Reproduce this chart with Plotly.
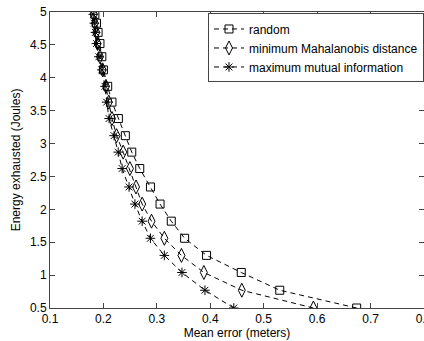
import plotly.graph_objects as go

energy = [0.5, 0.77, 1.04, 1.3, 1.56, 1.82, 2.08, 2.34, 2.62, 2.87, 3.12, 3.38, 3.63, 3.87, 4.12, 4.32, 4.52, 4.69, 4.83, 4.965]
err_random = [0.674, 0.530, 0.458, 0.393, 0.352, 0.327, 0.306, 0.288, 0.268, 0.253, 0.241, 0.228, 0.216, 0.208, 0.200, 0.197, 0.1935, 0.190, 0.187, 0.184]
err_mahal = [0.593, 0.459, 0.388, 0.346, 0.314, 0.290, 0.2725, 0.261, 0.2495, 0.237, 0.2246, 0.216, 0.210, 0.2047, 0.1985, 0.1935, 0.189, 0.1866, 0.184, 0.182]
err_mutual = [0.444, 0.390, 0.347, 0.314, 0.288, 0.2725, 0.259, 0.248, 0.235, 0.2277, 0.220, 0.2106, 0.206, 0.203, 0.197, 0.1916, 0.187, 0.185, 0.183, 0.181]

names = ["random", "minimum Mahalanobis distance", "maximum mutual information"]
symbols = ["square-open", "diamond-tall-open", "asterisk-open"]
sizes = [8, 10, 8]
series = [err_random, err_mahal, err_mutual]

FONT = "Liberation Sans, Arial, Helvetica"

fig = go.Figure()
for name, xs, sym, sz in zip(names, series, symbols, sizes):
    fig.add_trace(go.Scatter(
        x=xs, y=energy, name=name, mode="lines+markers",
        line=dict(color="black", width=1, dash="5px,4px"),
        marker=dict(symbol=sym, size=sz, color="black", line=dict(color="black", width=1)),
        hoverinfo="skip",
    ))

axis_common = dict(
    showgrid=False, zeroline=False, showline=True, linecolor="#444", linewidth=1,
    mirror="ticks", ticks="inside", ticklen=5, tickcolor="#444", automargin=False,
    tickfont=dict(family=FONT, size=12, color="black"), ticklabeloverflow="allow",
)
fig.update_xaxes(range=[0.1, 0.8], dtick=0.1, tick0=0.1,
                 title=dict(text="Mean error (meters)", font=dict(size=12, family=FONT, color="black"), standoff=2),
                 **axis_common)
fig.update_yaxes(range=[0.5, 5], dtick=0.5, tick0=0.5,
                 title=dict(text="Energy exhausted (Joules)", font=dict(size=12, family=FONT, color="black"), standoff=6),
                 **axis_common)

fig.update_layout(
    width=424, height=341,
    margin=dict(l=50, r=0, t=12, b=33),
    plot_bgcolor="white", paper_bgcolor="white",
    font=dict(family=FONT, size=12, color="black"),
    hovermode=False,
    legend=dict(x=0.4225, y=0.995, xanchor="left", yanchor="top",
                bordercolor="#444", borderwidth=1, bgcolor="white",
                font=dict(size=12), tracegroupgap=0, itemwidth=30),
)

fig.write_html("out.html", config={"displayModeBar": False, "staticPlot": True},
               post_script="document.body.style.margin='0';document.body.style.overflow='hidden';")
